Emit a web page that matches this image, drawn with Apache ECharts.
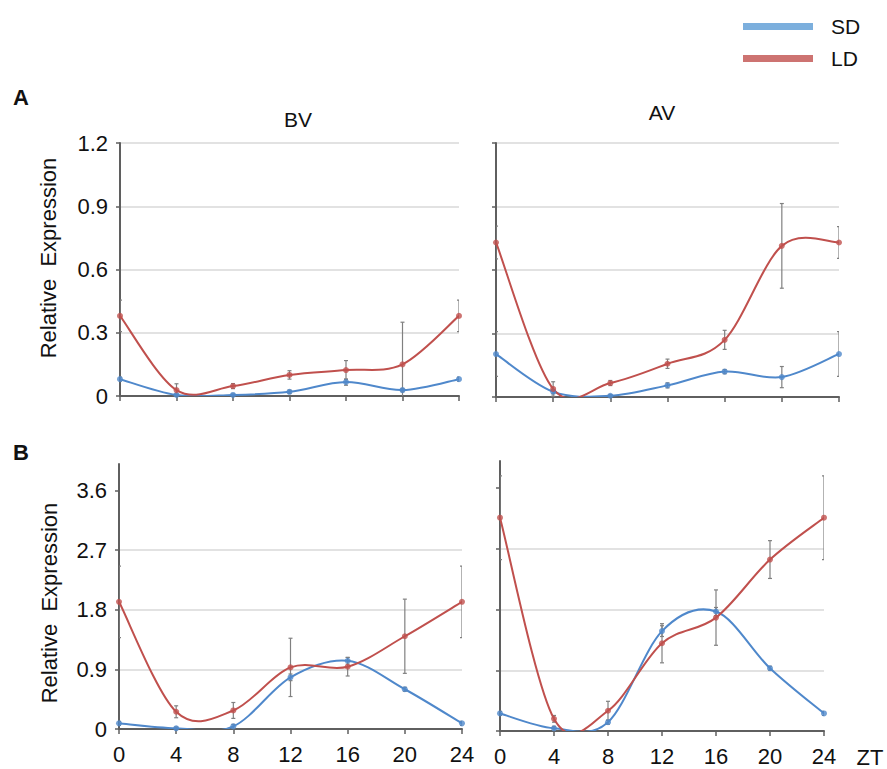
<!DOCTYPE html>
<html>
<head>
<meta charset="utf-8">
<script src="https://cdn.jsdelivr.net/npm/echarts@6/dist/echarts.min.js"></script>
<style>
    html, body { margin: 0; padding: 0; background: #fff; }
    #chart { width: 887px; height: 769px; }
</style>
</head>
<body>
<div id="chart"></div>
<script>
var zt = [0, 4, 8, 12, 16, 20, 24];

// row A (0 - 1.2)
var bvSdA = [0.08, 0.005, 0.005, 0.02, 0.066, 0.028, 0.08];
var bvSdErrA = [0.01, 0.005, 0.005, 0.008, 0.015, 0.008, 0.01];
var bvLdA = [0.38, 0.028, 0.047, 0.10, 0.123, 0.15, 0.38];
var bvLdErrA = [0.075, 0.03, 0.012, 0.02, 0.045, 0.20, 0.075];
var avSdA = [0.203, 0.025, 0.006, 0.055, 0.12, 0.094, 0.203];
var avSdErrA = [0.106, 0.01, 0.005, 0.012, 0.01, 0.05, 0.106];
var avLdA = [0.73, 0.038, 0.066, 0.157, 0.27, 0.714, 0.73];
var avLdErrA = [0.077, 0.034, 0.012, 0.022, 0.045, 0.20, 0.075];

// row B (0 - 4)
var bvSdB = [0.085, 0.01, 0.04, 0.78, 1.03, 0.6, 0.085];
var bvSdErrB = [0.03, 0.02, 0.03, 0.05, 0.05, 0.03, 0.03];
var bvLdB = [1.92, 0.26, 0.28, 0.93, 0.94, 1.40, 1.92];
var bvLdErrB = [0.54, 0.09, 0.12, 0.44, 0.14, 0.56, 0.54];
var avSdB = [0.26, 0.04, 0.13, 1.48, 1.77, 0.93, 0.26];
var avSdErrB = [0.03, 0.03, 0.03, 0.08, 0.06, 0.03, 0.03];
var avLdB = [3.16, 0.18, 0.3, 1.3, 1.68, 2.54, 3.16];
var avLdErrB = [0.62, 0.05, 0.14, 0.29, 0.41, 0.28, 0.62];

var ticksA = [0, 0.3, 0.6, 0.9, 1.2];
var ticksB = [0, 0.9, 1.8, 2.7, 3.6];

var blue = '#4f88cb';
var red = '#c0504d';
var axisColor = '#5f5f5f';
var font = 'Liberation Sans, Arial, sans-serif';

var chart = echarts.init(document.getElementById('chart'), null, {renderer: 'svg'});

function pairs(vals) {
    return vals.map(function (v, i) { return [zt[i], v]; });
}

function errData(vals, errs) {
    return vals.map(function (v, i) { return [zt[i], v - errs[i], v + errs[i]]; });
}

function renderErr(params, api) {
    var x = api.value(0);
    var lo = api.coord([x, api.value(1)]);
    var hi = api.coord([x, api.value(2)]);
    var w = 2;
    var st = {stroke: '#808080', lineWidth: 1.2};
    return {
        type: 'group',
        children: [
            {type: 'line', shape: {x1: lo[0], y1: lo[1], x2: hi[0], y2: hi[1]}, style: st},
            {type: 'line', shape: {x1: lo[0] - w, y1: lo[1], x2: lo[0] + w, y2: lo[1]}, style: st},
            {type: 'line', shape: {x1: hi[0] - w, y1: hi[1], x2: hi[0] + w, y2: hi[1]}, style: st}
        ]
    };
}

// excel-like smoothed line: one bezier piece per segment (catmull-rom style)
function makeCurve(vals, color) {
    return function (params, api) {
        var i = params.dataIndex;
        var n = vals.length;
        if (i >= n - 1) return;
        var pt = function (k) {
            k = Math.max(0, Math.min(n - 1, k));
            return api.coord([zt[k], vals[k]]);
        };
        var p0 = pt(i - 1), p1 = pt(i), p2 = pt(i + 1), p3 = pt(i + 2);
        var t = 1 / 6;
        return {
            type: 'bezierCurve',
            shape: {
                x1: p1[0], y1: p1[1], x2: p2[0], y2: p2[1],
                cpx1: p1[0] + (p2[0] - p0[0]) * t, cpy1: p1[1] + (p2[1] - p0[1]) * t,
                cpx2: p2[0] - (p3[0] - p1[0]) * t, cpy2: p2[1] - (p3[1] - p1[1]) * t
            },
            style: {stroke: color, lineWidth: 2, fill: null}
        };
    };
}

function xAxis(idx, showLabel) {
    return {
        type: 'value', gridIndex: idx, min: 0, max: 24, interval: 4,
        axisLine: {lineStyle: {color: axisColor, width: 2}},
        axisTick: {show: true, length: 5, lineStyle: {color: axisColor, width: 1.5}},
        axisLabel: {show: showLabel, margin: 14, fontSize: 22, color: '#111', fontFamily: font},
        splitLine: {show: false}
    };
}

function yAxis(idx, ticks, max, showLabel) {
    return {
        type: 'value', gridIndex: idx, min: 0, max: max, interval: ticks[1],
        axisLine: {show: true, lineStyle: {color: axisColor, width: 2}},
        axisTick: {show: true, length: 4, customValues: ticks, lineStyle: {color: axisColor, width: 1.5}},
        axisLabel: {show: showLabel, margin: 12, fontSize: 22, color: '#111', fontFamily: font,
            customValues: ticks, formatter: function (v) { return String(v); }},
        splitLine: {show: true, showMinLine: false, showMaxLine: max === ticks[ticks.length - 1],
            lineStyle: {color: '#d9d9d9', width: 1.5}}
    };
}

function lineSeries(name, idx, vals, color) {
    return [{
        type: 'custom', xAxisIndex: idx, yAxisIndex: idx,
        data: pairs(vals), renderItem: makeCurve(vals, color),
        encode: {x: 0, y: 1}, clip: true, z: 3, animation: false, silent: true
    }, {
        name: name, type: 'scatter', xAxisIndex: idx, yAxisIndex: idx,
        data: pairs(vals), symbol: 'circle', symbolSize: 6,
        itemStyle: {color: color}, z: 4, animation: false
    }];
}

function errSeries(idx, vals, errs) {
    return {
        type: 'custom', xAxisIndex: idx, yAxisIndex: idx,
        data: errData(vals, errs), renderItem: renderErr,
        encode: {x: 0, y: [1, 2]}, clip: true, z: 2, animation: false, silent: true
    };
}

function text(str, x, y, opts) {
    var o = opts || {};
    return {
        type: 'text', x: x, y: y, rotation: o.rotation || 0,
        style: {text: str, fontSize: o.size || 22, fontWeight: o.weight || 'normal',
            fontFamily: font, fill: '#111', align: o.align || 'center', verticalAlign: 'middle'}
    };
}

var series = [].concat(
    errSeries(0, bvSdA, bvSdErrA), errSeries(0, bvLdA, bvLdErrA),
    lineSeries('SD', 0, bvSdA, blue), lineSeries('LD', 0, bvLdA, red),
    errSeries(1, avSdA, avSdErrA), errSeries(1, avLdA, avLdErrA),
    lineSeries('SD', 1, avSdA, blue), lineSeries('LD', 1, avLdA, red),
    errSeries(2, bvSdB, bvSdErrB), errSeries(2, bvLdB, bvLdErrB),
    lineSeries('SD', 2, bvSdB, blue), lineSeries('LD', 2, bvLdB, red),
    errSeries(3, avSdB, avSdErrB), errSeries(3, avLdB, avLdErrB),
    lineSeries('SD', 3, avSdB, blue), lineSeries('LD', 3, avLdB, red)
);

var option = {
    backgroundColor: '#fff',
    animation: false,
    legend: {
        orient: 'vertical', left: 738, top: 11, itemWidth: 70, itemHeight: 7, itemGap: 11,
        selectedMode: false,
        data: [{name: 'SD', icon: 'rect', itemStyle: {color: '#5b9bd5'}},
               {name: 'LD', icon: 'rect', itemStyle: {color: red}}],
        textStyle: {fontSize: 21, color: '#111', fontFamily: font, padding: [0, 0, 0, 13]}
    },
    grid: [
        {left: 120, top: 143, width: 339, height: 253},
        {left: 496, top: 143, width: 343, height: 254},
        {left: 119, top: 464, width: 343, height: 265},
        {left: 500, top: 461, width: 324, height: 270}
    ],
    xAxis: [xAxis(0, false), xAxis(1, false), xAxis(2, true), xAxis(3, true)],
    yAxis: [yAxis(0, ticksA, 1.2, true), yAxis(1, ticksA, 1.2, false),
            yAxis(2, ticksB, 4, true), yAxis(3, ticksB, 4, false)],
    series: series,
    graphic: [
        text('A', 21, 97, {weight: 'bold'}),
        text('B', 21, 452, {weight: 'bold'}),
        text('BV', 298, 119, {size: 21}),
        text('AV', 662, 112, {size: 21}),
        text('ZT', 870, 757, {size: 22}),
        text('Relative  Expression', 48, 258, {rotation: Math.PI / 2, size: 22}),
        text('Relative  Expression', 49, 603, {rotation: Math.PI / 2, size: 22})
    ]
};

chart.setOption(option);
</script>
</body>
</html>
